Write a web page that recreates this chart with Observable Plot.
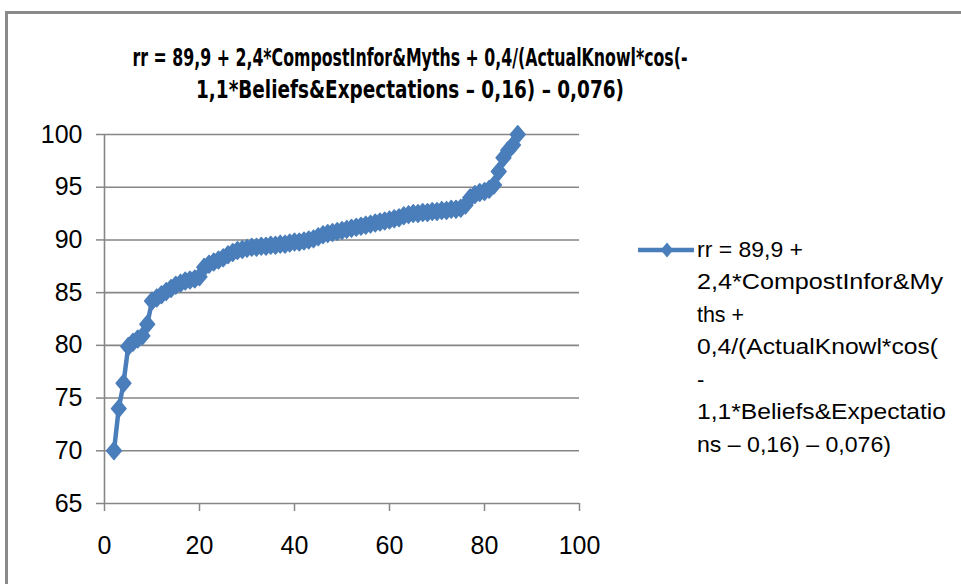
<!DOCTYPE html>
<html>
<head>
<meta charset="utf-8">
<script src="https://cdn.jsdelivr.net/npm/d3@7"></script>
<script src="https://cdn.jsdelivr.net/npm/@observablehq/plot@0.6"></script>
<style>
  html, body { margin: 0; padding: 0; background: #fff; }
  body { width: 961px; height: 584px; position: relative; overflow: hidden; font-family: "Liberation Sans", Arial, sans-serif; }
  #frame { position: absolute; left: 5px; top: 11px; width: 1000px; height: 700px; border-left: 3px solid #8a8a8a; border-top: 3px solid #8a8a8a; }
  #title, #legend, #chart { position: absolute; left: 0; top: 0; }
</style>
</head>
<body>
<div id="frame"></div>
<div id="chart"></div>
<svg id="title" width="961" height="120"></svg>
<svg id="legend" width="961" height="584"></svg>
<script>
// ---- data ----
const titleLines = [
  "rr = 89,9 + 2,4*CompostInfor&Myths + 0,4/(ActualKnowl*cos(-",
  "1,1*Beliefs&Expectations \u2013 0,16) \u2013 0,076)"
];
const legendLines = [
  "rr = 89,9 +",
  "2,4*CompostInfor&My",
  "ths +",
  "0,4/(ActualKnowl*cos(",
  "-",
  "1,1*Beliefs&Expectatio",
  "ns \u2013 0,16) \u2013 0,076)"
];
const xTicks = [0, 20, 40, 60, 80, 100];
const yTicks = [65, 70, 75, 80, 85, 90, 95, 100];
const xValues = d3.range(2, 88);
const rrValues = [
  70.0, 74.0, 76.4, 79.9, 80.3, 80.6, 80.9, 82.0, 84.2, 84.5,
  84.8, 85.1, 85.4, 85.7, 85.9, 86.1, 86.2, 86.3, 86.5, 87.4,
  87.7, 87.9, 88.1, 88.3, 88.6, 88.8, 89.0, 89.1, 89.2, 89.3,
  89.3, 89.4, 89.4, 89.5, 89.5, 89.6, 89.6, 89.7, 89.8, 89.8,
  89.9, 90.0, 90.1, 90.3, 90.5, 90.6, 90.7, 90.8, 90.9, 91.0,
  91.1, 91.2, 91.3, 91.4, 91.5, 91.6, 91.7, 91.8, 91.9, 92.0,
  92.1, 92.3, 92.4, 92.5, 92.5, 92.6, 92.6, 92.7, 92.7, 92.8,
  92.8, 92.9, 92.9, 93.0, 93.3, 94.0, 94.3, 94.5, 94.6, 94.8,
  95.2, 96.5, 97.8, 98.5, 99.0, 100.0
];
const data = xValues.map((x, i) => ({x, rr: rrValues[i]}));

const blue = "#4a7ebb";
const gray = "#868686";

// Excel-style diamond marker, slightly taller than wide
const diamond = {
  draw(context, size) {
    const r = Math.sqrt(size / Math.PI);
    const w = 1.05 * r, h = 1.25 * r;
    context.moveTo(0, -h);
    context.lineTo(w, 0);
    context.lineTo(0, h);
    context.lineTo(-w, 0);
    context.closePath();
  }
};

const chart = Plot.plot({
  width: 620,
  height: 584,
  marginLeft: 104,
  marginRight: 41,
  marginTop: 134,
  marginBottom: 81,
  style: {fontFamily: "'Liberation Sans', Arial, sans-serif", fontSize: "25px", color: "#000", background: "transparent"},
  x: {domain: [0, 100], ticks: xTicks},
  y: {domain: [65, 100], ticks: yTicks},
  marks: [
    Plot.ruleY(yTicks, {stroke: gray, strokeWidth: 1.6}),
    Plot.ruleX([0], {stroke: gray, strokeWidth: 1.6}),
    Plot.axisY(yTicks, {tickSize: 8, tickPadding: 14, stroke: gray, strokeWidth: 1.5, fill: "#000", fontSize: 25, label: null}),
    Plot.axisX(xTicks, {tickSize: 8, tickPadding: 25, stroke: gray, strokeWidth: 1.5, fill: "#000", fontSize: 25, label: null}),
    Plot.line(data, {x: "x", y: "rr", stroke: blue, strokeWidth: 4.5}),
    Plot.dot(data, {x: "x", y: "rr", symbol: diamond, r: 7, fill: blue, stroke: blue, strokeWidth: 1.5, strokeLinejoin: "round"})
  ]
});
document.getElementById("chart").appendChild(chart);

// ---- title ----
const title = d3.select("#title");
const titleWidths = [555, 428];
const titleY = [66, 98];
titleLines.forEach((t, i) => {
  title.append("text")
    .attr("x", 410).attr("y", titleY[i])
    .attr("text-anchor", "middle")
    .attr("font-family", "'Liberation Sans Narrow', 'DejaVu Sans Condensed', 'Liberation Sans', sans-serif")
    .attr("font-weight", "bold")
    .attr("font-size", 25)
    .attr("textLength", titleWidths[i])
    .attr("lengthAdjust", "spacingAndGlyphs")
    .text(t);
});

// ---- legend ----
const legend = d3.select("#legend");
legend.append("line").attr("x1", 638).attr("x2", 694).attr("y1", 250).attr("y2", 250)
  .attr("stroke", blue).attr("stroke-width", 4.5);
legend.append("path").attr("d", d3.symbol(diamond, Math.PI * 6 * 6)())
  .attr("transform", "translate(667,250)").attr("fill", blue);
const legendWidths = [106, 246, 47, 241, null, 249, 194];
legendLines.forEach((t, i) => {
  const el = legend.append("text")
    .attr("x", 697).attr("y", 251 + i * 32.5)
    .attr("dominant-baseline", "middle")
    .attr("font-family", "'Liberation Sans', Arial, sans-serif")
    .attr("font-size", 22)
    .text(t);
  if (legendWidths[i]) el.attr("textLength", legendWidths[i]).attr("lengthAdjust", "spacingAndGlyphs");
});
</script>
</body>
</html>
